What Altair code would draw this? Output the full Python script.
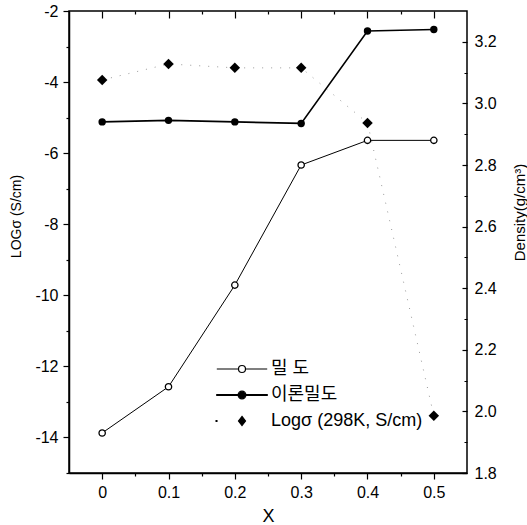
import altair as alt
import pandas as pd

# ---- data ----
x_vals = [0.0, 0.1, 0.2, 0.3, 0.4, 0.5]
density = [1.93, 2.08, 2.41, 2.80, 2.88, 2.88]              # 밀 도 (right axis)
theoretical_density = [2.94, 2.945, 2.94, 2.935, 3.235, 3.24]  # 이론밀도 (right axis)
log_sigma = [-3.94, -3.49, -3.60, -3.60, -5.15, -13.39]      # Logσ (left axis)
series_names = ["밀 도", "이론밀도", "Logσ (298K, S/cm)"]

x_ticks = [round(i * 0.05, 2) for i in range(0, 11)]
left_ticks = list(range(-15, -1))
right_ticks = [round(1.8 + 0.1 * i, 1) for i in range(0, 15)]

df = pd.DataFrame({"x": x_vals, "density": density,
                   "theo": theoretical_density, "logsigma": log_sigma})
legend_df = pd.DataFrame({"series": series_names})

FONT = "Liberation Sans, Arial, Noto Sans CJK KR"

x_scale = alt.Scale(domain=[-0.05, 0.55], nice=False, zero=False)
left_scale = alt.Scale(domain=[-15, -2], nice=False, zero=False)
right_scale = alt.Scale(domain=[1.8, 3.3], nice=False, zero=False)

major_x = "abs(round(datum.value*20)) % 2 == 0"
major_l = "datum.value % 2 == 0"
major_r = "round(datum.value*10) % 2 == 0"

bottom_axis = alt.Axis(
    orient="bottom", values=x_ticks, title="X",
    labelExpr=f"{major_x} ? (datum.value == 0 ? '0' : format(datum.value, '.1f')) : ''",
    tickSize=6,
    tickDash={"condition": {"test": major_x, "value": [6, 0]}, "value": [3, 10]},
    labelPadding=5, titleFontSize=18, titleX=199, titleY=52, titleBaseline="bottom",
)
top_axis = alt.Axis(
    orient="top", values=x_ticks, title="", labels=False, domain=False,
    offset=-7, tickSize=7,
    tickDash={"condition": {"test": major_x, "value": [7, 0]}, "value": [0, 4, 3]},
)
left_axis = alt.Axis(
    orient="left", values=left_ticks, title="LOGσ (S/cm)",
    labelExpr=f"{major_l} ? '-' + format(abs(datum.value), 'd') : ''",
    tickSize=6,
    tickDash={"condition": {"test": major_l, "value": [6, 0]}, "value": [3, 10]},
    labelPadding=5, titleFontSize=14, titleAngle=270, titleX=-46, titleY=205,
    titleBaseline="bottom", titleAlign="center",
)
right_axis = alt.Axis(
    orient="right", values=right_ticks, title="Density(g/cm³)",
    labelExpr=f"{major_r} ? format(datum.value, '.1f') : ''",
    domain=False, offset=-5, tickSize=5,
    tickDash={"condition": {"test": major_r, "value": [5, 0]}, "value": [0, 2, 3]},
    labelPadding=7, titleFontSize=15, titleAngle=270, titleX=50, titleY=201,
    titleBaseline="top", titleAlign="center",
)

base = alt.Chart(df)
x_bottom = alt.X("x:Q", scale=x_scale, axis=bottom_axis)
x_top = alt.X("x:Q", scale=x_scale, axis=top_axis)

# ---- left axis group: Logσ ----
y_sigma = alt.Y("logsigma:Q", scale=left_scale, axis=left_axis)
sigma_line = base.mark_line(color="#9a9a9a", strokeWidth=1, strokeDash=[1, 8]).encode(
    x=x_bottom, y=y_sigma
)
sigma_pts = base.mark_point(shape="diamond", filled=True, color="black", size=110, opacity=1).encode(
    x=x_bottom, y=y_sigma
)
left = alt.layer(sigma_line, sigma_pts)

# ---- right axis group: densities ----
y_dens = alt.Y("density:Q", scale=right_scale, axis=right_axis)
y_theo = alt.Y("theo:Q", scale=right_scale, axis=right_axis)
dens_line = base.mark_line(color="black", strokeWidth=1).encode(x=x_top, y=y_dens)
dens_pts = base.mark_point(shape="circle", filled=True, fill="white", stroke="black",
                           strokeWidth=1.3, size=40, opacity=1).encode(x=x_top, y=y_dens)
theo_line = base.mark_line(color="black", strokeWidth=1.6).encode(x=x_top, y=y_theo)
theo_pts = base.mark_point(shape="circle", filled=True, color="black", size=55, opacity=1).encode(
    x=x_top, y=y_theo
)

P_OPEN = "M-3.6,0L-0.5,0M0.5,0L3.6,0M-0.5,0A0.5,0.5,0,1,1,0.5,0A0.5,0.5,0,1,1,-0.5,0Z"
P_FILL = ("M-3.6,-0.06L-0.5,-0.06L-0.5,0.06L-3.6,0.06Z M0.5,-0.06L3.6,-0.06L3.6,0.06L0.5,0.06Z "
          "M-0.55,0A0.55,0.55,0,1,1,0.55,0A0.55,0.55,0,1,1,-0.55,0Z")
P_DIAM = "M-3.7,-0.06h0.12v0.12h-0.12Z M0,-0.65L0.5,0L0,0.65L-0.5,0Z"

legend = alt.Legend(
    title=None, orient="none", legendX=164, legendY=349, symbolSize=196,
    symbolStrokeWidth=1.2, symbolStrokeColor="black", symbolOpacity=1,
    labelFont=FONT, labelFontSize=18, labelColor="black", labelOffset=20,
    rowPadding=8, padding=0, symbolOffset=0,
)
legend_layer = alt.Chart(legend_df).mark_point(opacity=0, color="black").encode(
    shape=alt.Shape("series:N", scale=alt.Scale(domain=series_names, range=[P_OPEN, P_FILL, P_DIAM]),
                    legend=legend),
    fill=alt.Fill("series:N", scale=alt.Scale(domain=series_names, range=["white", "black", "black"]),
                  legend=legend),
    stroke=alt.Stroke("series:N", scale=alt.Scale(domain=series_names, range=["black", "black", "black"]),
                      legend=legend),
)

right = alt.layer(dens_line, dens_pts, theo_line, theo_pts, legend_layer)

chart = (
    alt.layer(left, right)
    .resolve_scale(y="independent")
    .resolve_axis(x="independent")
    .properties(
        width=398, height=462,
        autosize=alt.AutoSizeParams(type="none"),
        padding={"left": 69, "top": 11, "right": 60, "bottom": 52},
        background="white",
    )
    .configure_axis(
        labelFont=FONT, titleFont=FONT, labelFontSize=16, labelColor="black",
        titleColor="black", titleFontWeight="normal", grid=False,
        domainColor="black", domainWidth=1.5, tickColor="black", tickWidth=1.2,
    )
    .configure_view(stroke="black", strokeWidth=1.5)
)

chart.save("out.html", embed_options={"renderer": "svg", "actions": False})
